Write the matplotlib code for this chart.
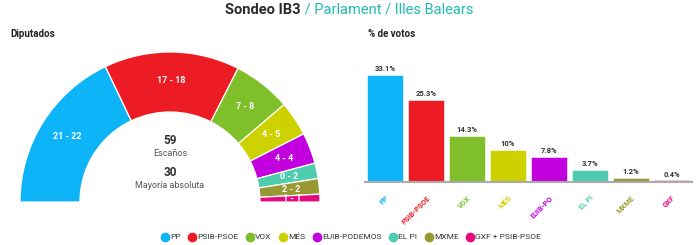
import matplotlib
matplotlib.use("Agg")
import matplotlib.pyplot as plt
from matplotlib.patches import Wedge
from matplotlib.lines import Line2D
import numpy as np

plt.rcParams['font.family'] = ['Roboto', 'DejaVu Sans']

# data
parties = ['PP', 'PSIB-PSOE', 'VOX', 'MÉS', 'EUIB-PODEMOS', 'EL PI', 'MXME', 'GXF + PSIB-PSOE']
short_names = ['PP', 'PSIB-PSOE', 'VOX', 'MÉS', 'EUIB-PO', 'EL PI', 'MXME', 'GXF']
seats_low = [21, 17, 7, 4, 4, 0, 2, 1]
seats_high = [22, 18, 8, 5, 4, 2, 2, 1]
arc_seats = [21.5, 17.5, 7.5, 4.5, 4, 2, 2, 1]   # share of the arc
votes = [33.1, 25.3, 14.3, 10, 7.8, 3.7, 1.2, 0.4]
total_seats = 59
majority = 30
colors = ['#0db4f7', '#ed1c24', '#7fbf2a', '#cdd100', '#c200de', '#4fcbad', '#999933', '#e8087f']

W, H = 698, 245
fig = plt.figure(figsize=(W / 100, H / 100), dpi=100)


def fig_rect(x0, y0, x1, y1):
    # pixel box (top-left origin) -> figure fraction
    return [x0 / W, (H - y1) / H, (x1 - x0) / W, (y1 - y0) / H]


# title, two colours, centred
t1 = fig.text(0, 1 - 9.5 / H, 'Sondeo IB3', fontsize=10.5, fontweight='bold', color='#2b2b2b', va='center')
t2 = fig.text(0, 1 - 9.5 / H, ' / Parlament / Illes Balears', fontsize=10.5, color='#1fbcb1', va='center')
fig.canvas.draw()
r = fig.canvas.get_renderer()
w1 = t1.get_window_extent(r).width
w2 = t2.get_window_extent(r).width
x_start = (W - (w1 + w2)) / 2
t1.set_x(x_start / W)
t2.set_x((x_start + w1) / W)

fig.text(10 / W, 1 - 34 / H, 'Diputados', fontsize=7, fontweight='bold', color='#222', va='center')
fig.text(368 / W, 1 - 34 / H, '% de votos', fontsize=7, fontweight='bold', color='#222', va='center')

# hemicycle
ax1 = fig.add_axes(fig_rect(0, 40, 350, 215))
ax1.set_xlim(0, 350)
ax1.set_ylim(30, 205)
ax1.set_aspect('equal')
ax1.axis('off')
cx, cy = 170, 43
R_out, R_in = 150, 90
angle = 180.0
for i in range(len(parties)):
    span = arc_seats[i] / sum(arc_seats) * 180
    a2 = angle
    a1 = angle - span
    ax1.add_patch(Wedge((cx, cy), R_out, a1, a2, width=R_out - R_in,
                        facecolor=colors[i], edgecolor='white', linewidth=0.9))
    mid = np.deg2rad((a1 + a2) / 2)
    rr = 122
    ax1.text(cx + rr * np.cos(mid), cy + rr * np.sin(mid),
             f'{seats_low[i]} - {seats_high[i]}', color='white', fontsize=6.5,
             fontweight='bold', ha='center', va='center')
    angle = a1

ax1.text(cx, cy + 62, str(total_seats), fontsize=8.5, fontweight='bold', color='#333', ha='center', va='center')
ax1.text(cx, cy + 48, 'Escaños', fontsize=6.5, color='#555', ha='center', va='center')
ax1.text(cx, cy + 30, str(majority), fontsize=8.5, fontweight='bold', color='#333', ha='center', va='center')
ax1.text(cx, cy + 16, 'Mayoría absoluta', fontsize=6.5, color='#555', ha='center', va='center')

# vote bars
ax2 = fig.add_axes(fig_rect(365, 69, 692, 181.7))
x = np.arange(len(votes))
bars = ax2.bar(x, votes, width=0.88, color=colors, edgecolor='white', linewidth=0.4)
ax2.bar_label(bars, labels=[f'{v:g}%' for v in votes], fontsize=5.5, fontweight='bold',
              color='#333', padding=2)
ax2.set_xlim(-0.5, len(votes) - 0.5)
ax2.set_ylim(0, 35)
for s in ['top', 'right', 'left']:
    ax2.spines[s].set_visible(False)
ax2.spines['bottom'].set_color('#aaaaaa')
ax2.spines['bottom'].set_linewidth(1.5)
ax2.set_yticks([])
ax2.set_xticks(x)
ax2.set_xticklabels(short_names, rotation=45, ha='right', rotation_mode='anchor',
                    fontsize=5.3, fontweight='bold')
ax2.tick_params(axis='x', length=0, pad=9)
for lbl, c in zip(ax2.get_xticklabels(), colors):
    lbl.set_color(c)

# legend
handles = [Line2D([], [], marker='o', linestyle='', markersize=6, markerfacecolor=c,
                  markeredgecolor=c) for c in colors]
fig.legend(handles, parties, loc='center', bbox_to_anchor=(351 / W, 1 - 237 / H), ncol=8,
           frameon=False, fontsize=6, handletextpad=0.1, columnspacing=0.9, handlelength=1.0,
           labelcolor='#333')

fig.savefig('out.png', dpi=100)
